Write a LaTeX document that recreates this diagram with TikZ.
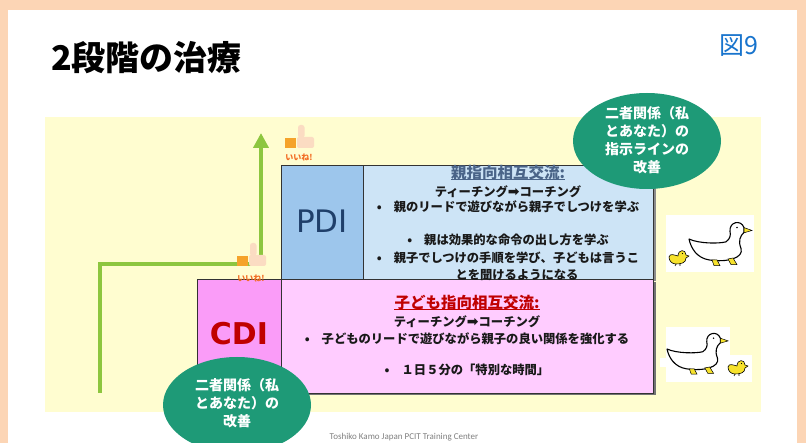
\documentclass[tikz,border=0pt]{standalone}
\usepackage{fontspec}
\setmainfont{Noto Sans CJK JP}
\newfontfamily\latinfont{DejaVu Sans}
\newfontfamily\symbfont{DejaVu Sans}
\newfontfamily\footfont{Carlito}
\usetikzlibrary{shapes.geometric,arrows.meta,calc}

\definecolor{peach}{HTML}{FCD5B5}
\definecolor{paleyellow}{HTML}{FFFDD0}
\definecolor{leaf}{HTML}{8DC63F}
\definecolor{ovalgreen}{HTML}{1E9A77}
\definecolor{pdidark}{HTML}{9DC6EC}
\definecolor{pdilight}{HTML}{CDE4F6}
\definecolor{cdidark}{HTML}{FA9CF8}
\definecolor{cdilight}{HTML}{FFCCFF}
\definecolor{pdiblue}{HTML}{1F3F6A}
\definecolor{cdired}{HTML}{C00000}
\definecolor{slate}{HTML}{4A6488}
\definecolor{figblue}{HTML}{1874CD}
\definecolor{likeorange}{HTML}{F26B21}
\definecolor{squareorange}{HTML}{F5A32A}
\definecolor{skin}{HTML}{FBDCC2}
\definecolor{chickyellow}{HTML}{F7E22C}

\tikzset{
  cell/.style={draw=black!80, line width=0.8pt, anchor=north west, inner sep=0pt},
  body/.style={font=\fontsize{12.3}{14}\selectfont\bfseries, text=black!90, inner sep=0pt},
  heading/.style={font=\fontsize{15.5}{18}\selectfont\bfseries, inner sep=0pt},
  ovaltext/.style={font=\fontsize{14}{18.2}\selectfont\bfseries, text=white, align=center, inner sep=0pt},
  oval/.style={ellipse, fill=ovalgreen, minimum width=148pt, minimum height=96pt, inner sep=0pt},
  bigtag/.style={inner sep=0pt},
  liketext/.style={font=\fontsize{8}{8}\selectfont\bfseries, text=likeorange, inner sep=0pt},
  pathline/.style={draw=leaf, line width=4.5pt, line join=miter},
  duck/.pic={
    \draw[fill=white, line width=1.1pt, line join=round]
      (41,12) .. controls (40,2) and (52,-1) .. (55,8)
      -- (55,13) .. controls (51,17) and (49,22) .. (52,30)
      .. controls (55,40) and (38,45) .. (20,42)
      .. controls (8,40) and (2,30) .. (0,20)
      .. controls (10,25) and (30,25) .. (37,23)
      .. controls (41,20) and (42,16) .. (41,12) -- cycle;
    \draw[fill=chickyellow, line width=0.5pt] (55,8) -- (63,11) -- (55,13.5) -- cycle;
    \fill (48,8) circle (0.9);
    \draw[fill=chickyellow, line width=0.5pt] (23,42) -- (25,48) -- (31,48) -- (28,42) -- cycle;
    \draw[fill=chickyellow, line width=0.5pt] (39,41) -- (42,47) -- (48,47) -- (44,40) -- cycle;
  },
  chick/.pic={
    \draw[fill=chickyellow, line width=0.6pt, line join=round]
      (-9,-1) .. controls (-8,-5) and (-4,-3) .. (0,-2)
      .. controls (0,-9) and (8,-9) .. (8,-3)
      -- (11,-2) -- (8,0)
      .. controls (8,5) and (3,6) .. (-2,6)
      .. controls (-6,6) and (-9,3) .. (-9,-1) -- cycle;
    \fill (4.5,-4.5) circle (0.7);
    \draw[line width=0.6pt] (-2,6) -- (-3,8) (2,6) -- (2,8);
  },
  thumb/.pic={
    \fill[squareorange] (0,0) rectangle (11,10);
    \fill[skin, rounded corners=2pt] (12,-1) rectangle (29,10);
    \fill[skin, rounded corners=2.5pt] (13,-13) rectangle (19.5,0);
  }
}

\begin{document}
\begin{tikzpicture}[x=1pt, y=-1pt]
\useasboundingbox (0,0) rectangle (806,443);
\clip (0,0) rectangle (806,443);

% page frame
\fill[peach] (0,0) rectangle (806,443);
\fill[white] (8,10) rectangle (797,443);

% heading and figure number
\node[anchor=west, inner sep=0pt, font=\fontsize{34}{34}\selectfont\bfseries] (title) at (51,58) {2段階の治療};
\node[anchor=west, inner sep=0pt, text=figblue, font=\fontsize{25}{25}\selectfont] (fignum) at (719,46) {図9};

% stage panel
\fill[paleyellow] (45,117) rectangle (761,412);

% growth path
\coordinate (g0) at (100,393);
\coordinate (g1) at (261,264);
\coordinate (g2) at (261,133);
\draw[pathline, -{Triangle[width=15pt,length=15pt]}] (g0) |- (g1) -- (g2);

% shadows
\fill[black!55] (199.5,282) rectangle (655.5,395.5);
\fill[black!45] (283,167) rectangle (655.5,281);

% PDI stage
\node[cell, fill=pdidark, minimum width=82pt, minimum height=114pt] (pdil) at (281,165) {};
\node[cell, fill=pdilight, minimum width=290pt, minimum height=114pt] (pdir) at (363,165) {};
% CDI stage
\node[cell, fill=cdidark, minimum width=84pt, minimum height=114pt] (cdil) at (197,279) {};
\node[cell, fill=cdilight, minimum width=372pt, minimum height=114pt] (cdir) at (281,279) {};

\node[bigtag, text=pdiblue, font=\latinfont\fontsize{31}{31}\selectfont] (pdi) at (322,221) {PDI};
\node[bigtag, text=cdired, font=\latinfont\fontsize{30}{30}\selectfont\bfseries] (cdi) at (239,334) {CDI};

% PDI description
\node[heading, text=slate] (pdih) at (508,173) {親指向相互交流:};
\draw[slate, line width=1pt] ($(pdih.south west)+(0,-1.5)$) -- ($(pdih.south east)+(0,-1.5)$);
\node[body] (pdi1) at (508,192) {ティーチング{\symbfont\fontsize{14}{14}\selectfont ➡}コーチング};
\node[body] (pdi2) at (508,207) {•\hspace{12pt}親のリードで遊びながら親子でしつけを学ぶ};
\node[body] (pdi3) at (508,240) {•\hspace{12pt}親は効果的な命令の出し方を学ぶ};
\node[body] (pdi4) at (508,258) {•\hspace{12pt}親子でしつけの手順を学び、子どもは言うこ};
\node[body] (pdi5) at (517,275) {とを聞けるようになる};

% CDI description
\node[heading, text=cdired] (cdih) at (467,303) {子ども指向相互交流:};
\draw[cdired, line width=1pt] ($(cdih.south west)+(0,-1.5)$) -- ($(cdih.south east)+(0,-1.5)$);
\node[body] (cdi1) at (467,322) {ティーチング{\symbfont\fontsize{14}{14}\selectfont ➡}コーチング};
\node[body] (cdi2) at (467,339) {•\hspace{12pt}子どものリードで遊びながら親子の良い関係を強化する};
\node[body] (cdi3) at (467,370) {•\hspace{12pt}１日５分の「特別な時間」};

% "like" badges
\pic at (237,256) {thumb};
\node[liketext] (like1) at (251,278) {いいね!};
\pic at (285,138) {thumb};
\node[liketext] (like2) at (299,157) {いいね!};

% relationship ovals
\node[oval] (ovaltop) at (647,141) {};
\node[ovaltext] (ovaltoptext) at (647,140) {二者関係（私\\とあなた）の\\指示ラインの\\改善};
\node[oval] (ovalbot) at (237,405) {};
\node[ovaltext] (ovalbottext) at (237,403) {二者関係（私\\とあなた）の\\改善};

% duck families
\fill[white] (666,215) rectangle (754,272);
\pic[yscale=0.95] at (689,220) {duck};
\pic at (678,258) {chick};
\fill[white] (666,327) rectangle (730,382);
\fill[white] (726,355) rectangle (752,382);
\fill[white] (660,358) rectangle (667,367);
\pic[xscale=0.97, yscale=0.9] at (667,331) {duck};
\pic at (737,368) {chick};

% credit line
\node[inner sep=0pt, text=black!50, font=\footfont\fontsize{9}{9}\selectfont] (credit) at (404,437) {Toshiko Kamo Japan PCIT Training Center};
\end{tikzpicture}
\end{document}
